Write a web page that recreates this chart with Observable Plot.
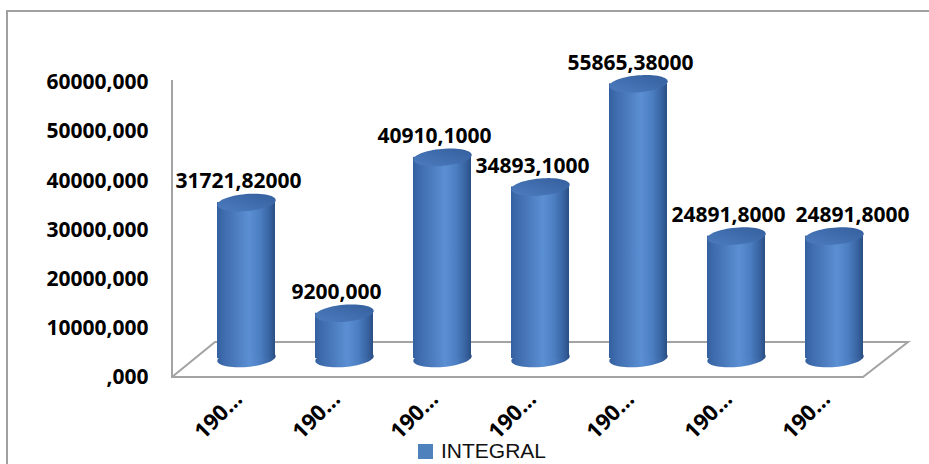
<!DOCTYPE html>
<html><head><meta charset="utf-8">
<script src="https://cdn.jsdelivr.net/npm/d3@7"></script>
<script src="https://cdn.jsdelivr.net/npm/@observablehq/plot@0.6"></script>
<style>
html,body{margin:0;padding:0;background:#fff;overflow:hidden;width:929px;height:464px}
#wrap{position:relative;width:929px;height:464px}
#border{position:absolute;left:6px;top:10px;width:1000px;height:1000px;border:2px solid #a0a0a0;box-sizing:border-box;pointer-events:none}
#chart{position:absolute;left:0;top:0}
#chart svg text{font-weight:bold}
#legend{position:absolute;left:418px;top:439px;display:flex;align-items:center;font-family:"Liberation Sans",Arial,sans-serif;font-size:21px;color:#111;line-height:24px}
#legend .sw{width:15px;height:15px;background:#4f81bd;margin-right:8px}
</style></head><body>
<div id="wrap"><div id="border"></div><div id="chart"></div><div id="legend"><span class="sw"></span><span>INTEGRAL</span></div></div>
<script>
// ---- data ----
const categories = [1, 2, 3, 4, 5, 6, 7];
const xTickLabels = ["190…", "190…", "190…", "190…", "190…", "190…", "190…"];
const values = [31721.82, 9200, 40910.1, 34893.1, 55865.38, 24891.8, 24891.8];
const valueLabels = ["31721,82000", "9200,000", "40910,1000", "34893,1000", "55865,38000", "24891,8000", "24891,8000"];
const yTicks = [0, 10000, 20000, 30000, 40000, 50000, 60000];
const yTickLabels = [",000", "10000,000", "20000,000", "30000,000", "40000,000", "50000,000", "60000,000"];

const data = categories.map((c, i) => ({cat: c, value: values[i], label: valueLabels[i], tick: xTickLabels[i]}));

// ---- style constants ----
const DEPTH_X = 45, DEPTH_Y = 35;       // floor depth
const BAR_DX = 22, BAR_DY = -19;        // bars sit mid-depth
const RX = 29.3, RY = 8.5, TILT = -5 * Math.PI / 180;

const ellipseSymbol = {
  draw(context) {
    const n = 60;
    for (let k = 0; k <= n; k++) {
      const t = (k / n) * 2 * Math.PI;
      const x = RX * Math.cos(t), y = RY * Math.sin(t);
      const xr = x * Math.cos(TILT) - y * Math.sin(TILT);
      const yr = x * Math.sin(TILT) + y * Math.cos(TILT);
      if (k === 0) context.moveTo(xr, yr); else context.lineTo(xr, yr);
    }
    context.closePath();
  }
};

function defsMark() {
  const defs = d3.create("svg:defs");
  const body = defs.append("linearGradient").attr("id", "cylBody").attr("x1", 0).attr("x2", 1).attr("y1", 0).attr("y2", 0);
  [[0, "#34609f"], [0.1, "#3d6aab"], [0.55, "#5b8fd3"], [0.75, "#4b7dc1"], [0.92, "#36619e"], [1, "#2a4e83"]]
    .forEach(([o, c]) => body.append("stop").attr("offset", o).attr("stop-color", c));
  const top = defs.append("linearGradient").attr("id", "cylTop").attr("x1", 0).attr("x2", 1).attr("y1", 1).attr("y2", 0);
  [[0, "#4c7cbf"], [1, "#355f9d"]]
    .forEach(([o, c]) => top.append("stop").attr("offset", o).attr("stop-color", c));
  return defs.node();
}

function floorMark(index, scales, values, dims) {
  const x0 = dims.marginLeft, x1 = dims.width - dims.marginRight;
  const y0 = scales.y(0), yt = scales.y(yTicks[yTicks.length - 1]);
  return d3.create("svg:path")
    .attr("d", `M${x0},${yt - 2}V${y0}H${x1}l${DEPTH_X},${-DEPTH_Y}H${x0 + DEPTH_X - 2}L${x0},${y0}`)
    .attr("fill", "none").attr("stroke", "#a3a3a3").attr("stroke-width", 2)
    .attr("stroke-linejoin", "miter").node();
}

const chart = Plot.plot({
  width: 929,
  height: 436,
  marginLeft: 172,
  marginRight: 66,
  marginTop: 82,
  marginBottom: 59,
  style: {fontFamily: "'Open Sans', sans-serif", fontSize: "21px", color: "#000", background: "transparent", overflow: "visible"},
  x: {type: "band", domain: categories, padding: 0, axis: null},
  y: {domain: [0, 60000], axis: null, label: null},
  marks: [
    defsMark,
    floorMark,
    Plot.dot(data, {x: "cat", y: d => 0, symbol: ellipseSymbol, r: 1, fill: "url(#cylBody)", stroke: "none", dx: BAR_DX, dy: BAR_DY}),
    Plot.barY(data, {x: "cat", y: "value", fill: "url(#cylBody)", insetLeft: 20, insetRight: 20, dx: BAR_DX, dy: BAR_DY}),
    Plot.dot(data, {x: "cat", y: "value", symbol: ellipseSymbol, r: 1, fill: "url(#cylTop)", stroke: "none", dx: BAR_DX, dy: BAR_DY}),
    Plot.text(data, {filter: (d, i) => i < 6, x: "cat", y: "value", text: "label", dx: BAR_DX - 8, dy: BAR_DY - 21, fill: "#000", fontSize: 21}),
    Plot.text(data, {filter: (d, i) => i === 6, x: "cat", y: "value", text: "label", dx: BAR_DX + 18, dy: BAR_DY - 21, fill: "#000", fontSize: 21}),
    Plot.text(data, {x: "cat", frameAnchor: "bottom", text: "tick", rotate: -45, textAnchor: "end", dx: 19, dy: 23, fill: "#000", fontSize: 22}),
    Plot.axisY({ticks: yTicks, tickFormat: d => yTickLabels[yTicks.indexOf(d)], tickSize: 0, tickPadding: 24, label: null, fontSize: 21})
  ]
});
document.getElementById("chart").appendChild(chart);
</script>
</body></html>
